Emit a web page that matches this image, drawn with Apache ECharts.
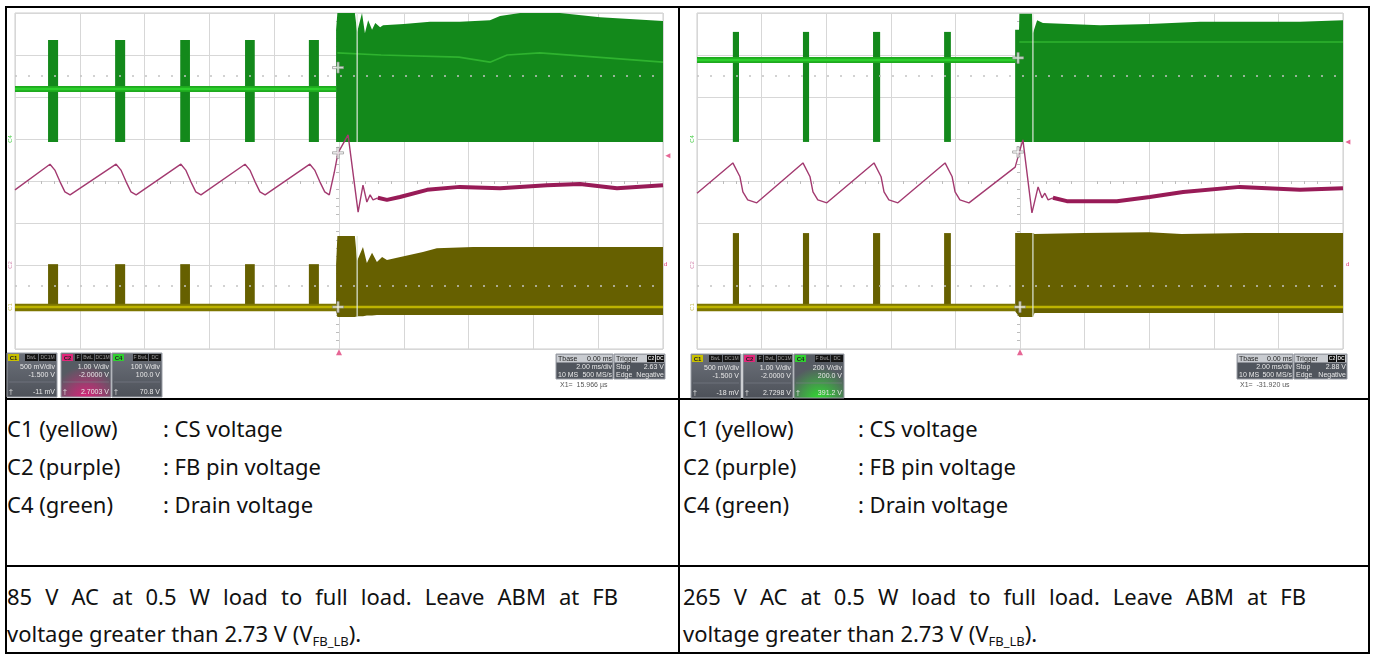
<!DOCTYPE html>
<html>
<head>
<meta charset="utf-8">
<script src="https://cdn.jsdelivr.net/npm/echarts/dist/echarts.min.js"></script>
<style>
  html, body { margin: 0; padding: 0; background: #fff; }
  #page { position: relative; width: 1375px; height: 656px; overflow: hidden; font-family: 'Noto Sans', sans-serif; }
  .ln { position: absolute; background: #000; }
  .t { position: absolute; font-size: 22px; line-height: 24px; color: #111; white-space: nowrap; }
  .j { text-align: justify; text-align-last: justify; white-space: normal; }
  .t sub { font-size: 13px; vertical-align: -4px; line-height: 0; }
  #chart { position: absolute; left: 0; top: 0; width: 1375px; height: 656px; }
</style>
</head>
<body>
<div id="page">
  <div class="ln" style="left:5px;top:6px;width:1365px;height:2px"></div>
  <div class="ln" style="left:5px;top:398px;width:1365px;height:2px"></div>
  <div class="ln" style="left:5px;top:565px;width:1365px;height:2px"></div>
  <div class="ln" style="left:5px;top:652px;width:1365px;height:2px"></div>
  <div class="ln" style="left:5px;top:6px;width:2px;height:648px"></div>
  <div class="ln" style="left:678px;top:6px;width:2px;height:648px"></div>
  <div class="ln" style="left:1368px;top:6px;width:2px;height:648px"></div>

  <div class="t" style="left:7px;top:416px">C1 (yellow)</div>
  <div class="t" style="left:163px;top:416px">: CS voltage</div>
  <div class="t" style="left:7px;top:454px">C2 (purple)</div>
  <div class="t" style="left:163px;top:454px">: FB pin voltage</div>
  <div class="t" style="left:7px;top:492px">C4 (green)</div>
  <div class="t" style="left:163px;top:492px">: Drain voltage</div>
  <div class="t j" style="left:7px;top:584px;width:611px">85 V AC at 0.5 W load to full load. Leave ABM at FB</div>
  <div class="t" style="left:7px;top:621px">voltage greater than 2.73 V (V<sub>FB_LB</sub>).</div>

  <div class="t" style="left:683px;top:416px">C1 (yellow)</div>
  <div class="t" style="left:858px;top:416px">: CS voltage</div>
  <div class="t" style="left:683px;top:454px">C2 (purple)</div>
  <div class="t" style="left:858px;top:454px">: FB pin voltage</div>
  <div class="t" style="left:683px;top:492px">C4 (green)</div>
  <div class="t" style="left:858px;top:492px">: Drain voltage</div>
  <div class="t j" style="left:683px;top:584px;width:623px">265 V AC at 0.5 W load to full load. Leave ABM at FB</div>
  <div class="t" style="left:683px;top:621px">voltage greater than 2.73 V (V<sub>FB_LB</sub>).</div>

  <div id="chart"></div>
</div>
<script>
// time in ms (2 ms/div, trigger at 0), amplitude in screen divisions (0 = centre)
const timeTicks = [-10, -8, -6, -4, -2, 0, 2, 4, 6, 8, 10];

// ---- left screen: 85 V AC ----
const drainBurstsL = [
  [-8.98, -8.67, 0.93, 3.36], [-6.91, -6.60, 0.93, 3.36], [-4.90, -4.60, 0.93, 3.36],
  [-2.90, -2.60, 0.93, 3.36], [-0.93, -0.62, 0.93, 3.36]
];
const drainBaseL = [[-10, 2.19], [-0.09, 2.19]];
const drainEnvL = [
  [-0.09, 0.93, 3.6], [-0.05, 0.93, 4.0], [0.49, 0.93, 4.0], [0.56, 0.93, 3.55], [0.71, 0.93, 4.0],
  [0.80, 0.93, 3.52], [0.90, 0.93, 3.83], [1.02, 0.93, 3.6], [1.12, 0.93, 3.76], [1.27, 0.93, 3.66],
  [1.36, 0.93, 3.71], [2.0, 0.93, 3.74], [2.81, 0.93, 3.79], [3.73, 0.93, 3.79], [4.66, 0.93, 3.83],
  [4.97, 0.93, 3.93], [5.59, 0.93, 4.0], [6.82, 0.93, 4.0], [8.06, 0.93, 3.9], [10, 0.93, 3.81]
];
const drainMeanL = [[-0.05, 3.05], [1.3, 3.0], [3.7, 2.95], [4.66, 2.83], [5.19, 3.0], [6.2, 3.05], [10, 2.83]];
const fbPreL = [
  [-10, -0.21], [-8.92, 0.40], [-8.77, 0.26], [-8.61, -0.02], [-8.46, -0.26], [-8.30, -0.33],
  [-6.88, 0.40], [-6.73, 0.26], [-6.57, -0.02], [-6.42, -0.26], [-6.26, -0.33],
  [-4.88, 0.40], [-4.73, 0.26], [-4.57, -0.02], [-4.42, -0.26], [-4.26, -0.33],
  [-2.90, 0.40], [-2.75, 0.26], [-2.59, -0.02], [-2.44, -0.26], [-2.28, -0.33],
  [-0.90, 0.40], [-0.75, 0.26], [-0.59, -0.02], [-0.44, -0.26], [-0.30, -0.33],
  [-0.15, 0.19], [-0.03, 0.67], [0.28, 1.10], [0.59, -0.74], [0.74, -0.10], [0.86, -0.50],
  [0.96, -0.33], [1.05, -0.45], [1.20, -0.40]
];
const fbPostL = [
  [1.20, -0.40], [1.48, -0.45], [1.88, -0.38], [2.72, -0.21], [3.73, -0.14], [4.97, -0.17],
  [6.42, -0.10], [7.44, -0.07], [8.58, -0.17], [10, -0.10]
];
const csPulsesL = [
  [-8.98, -8.67, -3.05, -1.98], [-6.91, -6.60, -3.05, -1.98], [-4.90, -4.60, -3.05, -1.98],
  [-2.90, -2.60, -3.05, -1.98], [-0.93, -0.62, -3.05, -1.98]
];
const csNoiseL = [[-10, -3.1, -2.92], [-0.09, -3.1, -2.92]];
const csEnvL = [
  [-0.09, -3.1, -1.98], [-0.05, -3.24, -1.31], [0.49, -3.24, -1.31], [0.56, -3.22, -1.9],
  [0.74, -3.22, -1.57], [0.86, -3.2, -1.95], [1.02, -3.2, -1.71], [1.17, -3.19, -1.93],
  [1.33, -3.19, -1.81], [1.48, -3.19, -1.88], [1.79, -3.19, -1.83], [2.59, -3.19, -1.69],
  [3.02, -3.19, -1.6], [4.14, -3.19, -1.57], [10, -3.19, -1.57]
];
const csBaseL = [[-10, -3.0], [10, -3.0]];
const gapL = [[0.56, 0.93, 4.0], [0.56, -3.22, -1.31]];
const cursorL = [[-0.03, 2.7], [-0.03, 0.67], [-0.03, -3.0]];

// ---- right screen: 265 V AC ----
const drainBurstsR = [
  [-8.89, -8.70, 0.93, 3.55], [-6.72, -6.53, 0.93, 3.55], [-4.55, -4.33, 0.93, 3.55], [-2.35, -2.14, 0.93, 3.55]
];
const drainBaseR = [[-10, 2.88], [-0.15, 2.88]];
const drainEnvR = [
  [-0.15, 0.93, 3.6], [-0.03, 0.93, 3.6], [-0.02, 0.93, 3.98], [0.37, 0.93, 3.98], [0.40, 0.93, 3.52],
  [0.53, 0.93, 3.83], [0.71, 0.93, 3.76], [1.5, 0.93, 3.74], [2.48, 0.93, 3.71], [4.0, 0.93, 3.74],
  [5.57, 0.93, 3.79], [8.67, 0.93, 3.79], [10, 0.93, 3.83]
];
const drainMeanR = [[-0.02, 3.31], [10, 3.31]];
const fbPreR = [
  [-10, -0.29], [-8.89, 0.43], [-8.67, 0.10], [-8.58, -0.26], [-8.43, -0.45], [-8.15, -0.52],
  [-6.72, 0.43], [-6.50, 0.10], [-6.41, -0.26], [-6.26, -0.45], [-5.98, -0.52],
  [-4.52, 0.43], [-4.30, 0.10], [-4.21, -0.26], [-4.06, -0.45], [-3.78, -0.52],
  [-2.32, 0.43], [-2.10, 0.10], [-2.01, -0.26], [-1.86, -0.45], [-1.58, -0.52],
  [-0.15, 0.33], [0.0, 0.74], [0.09, 0.98], [0.37, -0.76], [0.56, -0.14], [0.68, -0.40],
  [0.77, -0.29], [0.87, -0.45], [1.02, -0.40]
];
const fbPostR = [
  [1.02, -0.40], [1.45, -0.48], [3.0, -0.48], [4.02, -0.38], [5.05, -0.26], [6.81, -0.14],
  [7.65, -0.17], [8.67, -0.21], [10, -0.17]
];
const csPulsesR = [
  [-8.89, -8.70, -3.05, -1.24], [-6.72, -6.53, -3.05, -1.24], [-4.55, -4.33, -3.05, -1.24], [-2.35, -2.14, -3.05, -1.24]
];
const csNoiseR = [[-10, -3.1, -2.92], [-0.15, -3.1, -2.92]];
const csEnvR = [
  [-0.15, -3.1, -1.24], [-0.02, -3.24, -1.24], [0.40, -3.24, -1.24], [0.45, -3.14, -1.26], [2.0, -3.14, -1.24],
  [4.0, -3.14, -1.22], [5.0, -3.14, -1.26], [7.0, -3.14, -1.24], [10, -3.14, -1.24]
];
const csBaseR = [[-10, -3.0], [10, -3.0]];
const gapR = [[0.40, 0.93, 3.98], [0.40, -3.24, -1.24]];
const cursorR = [[-0.06, 2.93], [-0.06, 0.69], [0, -3.0]];

const GREEN = '#13891b', GREEN_LT = '#2ccf2c', PURPLE = '#a33a70', PURPLE_DK = '#981b57';
const OLIVE = '#666000', YELLOW = '#bdb300', PINK = '#e0407a';

function rects(color) {
  return function (params, api) {
    const a = api.coord([api.value(0), api.value(3)]);
    const b = api.coord([api.value(1), api.value(2)]);
    return { type: 'rect', shape: { x: a[0], y: a[1], width: Math.max(b[0] - a[0], 1), height: b[1] - a[1] }, style: { fill: color } };
  };
}
// one polygon for the whole band: upper edge left->right, lower edge back
function envelope(points, color) {
  return function (params, api) {
    if (params.dataIndex !== 0) return null;
    const top = points.map(p => api.coord([p[0], p[2]]));
    const bottom = points.map(p => api.coord([p[0], p[1]])).reverse();
    return { type: 'polygon', shape: { points: top.concat(bottom) }, style: { fill: color } };
  };
}
function gaps(params, api) {
  const a = api.coord([api.value(0), api.value(2)]);
  const b = api.coord([api.value(0), api.value(1)]);
  return { type: 'line', shape: { x1: a[0], y1: a[1], x2: b[0], y2: b[1] }, style: { stroke: '#dfe8dc', lineWidth: 1.2 } };
}

function screen(gi, d) {
  const custom = (data, fn, z) => ({ type: 'custom', xAxisIndex: gi, yAxisIndex: gi, data, renderItem: fn, z, silent: true, clip: true });
  const line = (data, color, width, z, extra) => Object.assign({
    type: 'line', xAxisIndex: gi, yAxisIndex: gi, data, showSymbol: false, symbol: 'none', z, silent: true,
    lineStyle: { color, width }
  }, extra || {});
  const dotted = { color: '#c4c4c4', type: [2, 11], width: 1.5 };
  return [
    // dotted reference rows sit under the traces
    line([], '#ccc', 1, 1, {
      markLine: {
        silent: true, symbol: 'none', label: { show: false },
        data: [{ yAxis: 2.5, lineStyle: dotted }, { yAxis: -2.5, lineStyle: dotted }]
      }
    }),
    custom(d.drainBursts, rects(GREEN), 2),
    custom(d.drainEnv, envelope(d.drainEnv, GREEN), 2),
    line(d.drainBase, '#1eaa1e', 6, 3),
    line(d.drainBase, GREEN_LT, 2.5, 3),
    line(d.drainMean, '#2fb32f', 1.6, 3),
    custom(d.csPulses, rects(OLIVE), 2),
    custom(d.csEnv, envelope(d.csEnv, OLIVE), 2),
    custom(d.csNoise, envelope(d.csNoise, '#7d7600'), 2),
    line(d.csBase, YELLOW, 2.5, 3),
    custom(d.gap, gaps, 4),
    line(d.fbPre, PURPLE, 1.4, 5, {
      markLine: {
        silent: true, symbol: 'none', label: { show: false },
        data: [[{ coord: [0, 0.98], lineStyle: { color: '#777', type: [4, 3], width: 1 } }, { coord: [0, -4.02] }]]
      }
    }),
    line(d.fbPost, PURPLE_DK, 4, 5),
    {
      type: 'scatter', xAxisIndex: gi, yAxisIndex: gi, data: d.cursor, z: 6, silent: true, clip: false,
      symbol: 'path://M4 0h2v4h4v2h-4v4h-2v-4h-4v-2h4z', symbolSize: 11,
      itemStyle: { color: '#f4f4f4', borderColor: '#8a8a8a', borderWidth: 0.8 }
    },
    {
      type: 'scatter', xAxisIndex: gi, yAxisIndex: gi, data: [[0, -4.08]], z: 6, silent: true, clip: false,
      symbol: 'triangle', symbolSize: 6, itemStyle: { color: PINK }
    },
    {
      type: 'scatter', xAxisIndex: gi, yAxisIndex: gi, data: [d.edgeMark], z: 6, silent: true, clip: false,
      symbol: 'triangle', symbolRotate: 90, symbolSize: 5, itemStyle: { color: PINK }
    }
  ];
}

const axisX = (gi) => ({
  gridIndex: gi, type: 'value', min: timeTicks[0], max: timeTicks[timeTicks.length - 1], interval: 2,
  axisLine: { show: false, onZero: true }, axisTick: { show: false }, axisLabel: { show: false },
  minorTick: { show: true, splitNumber: 5, length: 3, lineStyle: { color: '#bdbdbd' } },
  splitLine: { show: true, lineStyle: { color: '#d7d7d7', width: 1 } }
});
const axisY = (gi) => ({
  gridIndex: gi, type: 'value', min: -4, max: 4, interval: 1,
  axisLine: { show: false, onZero: true }, axisTick: { show: false }, axisLabel: { show: false },
  minorTick: { show: true, splitNumber: 5, length: 3, lineStyle: { color: '#bdbdbd' } },
  splitLine: { show: true, lineStyle: { color: '#d7d7d7', width: 1 } }
});

// scope descriptor boxes (not data)
const TXT = '#e8e8e8';
function chanBox(x, y, ch, chColor, tags, l1, l2, l3, glow) {
  const body = glow
    ? { type: 'radial', x: 0.5, y: 1.05, r: 0.75, colorStops: [{ offset: 0, color: glow }, { offset: 1, color: '#565b63' }] }
    : { type: 'linear', x: 0, y: 0, x2: 0, y2: 1, colorStops: [{ offset: 0, color: '#6c717a' }, { offset: 1, color: '#4d5159' }] };
  const kids = [
    { type: 'rect', shape: { x: 0, y: 0, width: 50, height: 44 }, style: { fill: body, stroke: '#9a9ea6', lineWidth: 1 } },
    { type: 'rect', shape: { x: 1, y: 1, width: 11, height: 7 }, style: { fill: chColor } },
    { type: 'text', style: { text: ch, x: 6.5, y: 5, font: 'bold 6px "Liberation Sans"', fill: '#222', align: 'center', verticalAlign: 'middle' } },
    { type: 'line', shape: { x1: 2, y1: 29, x2: 48, y2: 29 }, style: { stroke: '#7d828b', lineWidth: 0.6 } },
    { type: 'text', style: { text: l1, x: 48, y: 14, font: '7px "Liberation Sans"', fill: TXT, align: 'right', verticalAlign: 'middle' } },
    { type: 'text', style: { text: l2, x: 48, y: 22, font: '7px "Liberation Sans"', fill: TXT, align: 'right', verticalAlign: 'middle' } },
    { type: 'text', style: { text: l3, x: 48, y: 39, font: '7px "Liberation Sans"', fill: TXT, align: 'right', verticalAlign: 'middle' } },
    { type: 'text', style: { text: '†', x: 4, y: 39, font: '7px "Liberation Sans"', fill: TXT, align: 'center', verticalAlign: 'middle' } }
  ];
  tags.forEach(t => {
    kids.push({ type: 'rect', shape: { x: t[0], y: 1, width: t[1], height: 7 }, style: { fill: '#151515' } });
    kids.push({ type: 'text', style: { text: t[2], x: t[0] + t[1] / 2, y: 5, font: '5px "Liberation Sans"', fill: t[3] || '#9a9a9a', align: 'center', verticalAlign: 'middle' } });
  });
  return { type: 'group', x, y, children: kids };
}
function infoBox(x, y, w, head, headTags, r2a, r2b, r3a, r3b) {
  const kids = [
    { type: 'rect', shape: { x: 0, y: 0, width: w, height: 25 }, style: { fill: '#50555d', stroke: '#9a9ea6', lineWidth: 1 } },
    { type: 'rect', shape: { x: 0.5, y: 0.5, width: w - 1, height: 8 }, style: { fill: '#c9ccd1' } },
    { type: 'text', style: { text: head[0], x: 2, y: 4.8, font: '7px "Liberation Sans"', fill: '#222', verticalAlign: 'middle' } },
    { type: 'text', style: { text: r2a, x: 2, y: 13, font: '7px "Liberation Sans"', fill: TXT, verticalAlign: 'middle' } },
    { type: 'text', style: { text: r2b, x: w - 1, y: 13, font: '7px "Liberation Sans"', fill: TXT, align: 'right', verticalAlign: 'middle' } },
    { type: 'text', style: { text: r3a, x: 2, y: 21, font: '7px "Liberation Sans"', fill: TXT, verticalAlign: 'middle' } },
    { type: 'text', style: { text: r3b, x: w - 1, y: 21, font: '7px "Liberation Sans"', fill: TXT, align: 'right', verticalAlign: 'middle' } }
  ];
  if (head[1]) kids.push({ type: 'text', style: { text: head[1], x: w - 1, y: 4.8, font: '7px "Liberation Sans"', fill: '#222', align: 'right', verticalAlign: 'middle' } });
  headTags.forEach(t => {
    kids.push({ type: 'rect', shape: { x: t[0], y: 1, width: t[1], height: 7 }, style: { fill: '#111' } });
    kids.push({ type: 'text', style: { text: t[2], x: t[0] + t[1] / 2, y: 5, font: 'bold 5px "Liberation Sans"', fill: '#ddd', align: 'center', verticalAlign: 'middle' } });
  });
  return { type: 'group', x, y, children: kids };
}
function sideLabel(x, y, text, color) {
  return { type: 'text', x, y, rotation: Math.PI / 2, style: { text, font: '6px "Liberation Sans"', fill: color, align: 'center', verticalAlign: 'middle' } };
}

const graphics = [
  chanBox(7, 353, 'C1', '#c8c000', [[18, 13, 'BwL'], [32, 17, 'DC1M']], '500 mV/div', '-1.500 V', '-11 mV'),
  chanBox(61, 353, 'C2', '#e0287a', [[14, 6, 'F'], [21, 12, 'BwL'], [34, 15, 'DC1M']], '1.00 V/div', '-2.0000 V', '2.7003 V', '#e0207a'),
  chanBox(112, 353, 'C4', '#2fd02f', [[21, 15, 'F BwL'], [37, 12, 'DC']], '100 V/div', '100.0 V', '70.8 V'),
  infoBox(556, 354, 57, ['Tbase', '0.00 ms'], [], '', '2.00 ms/div', '10 MS', '500 MS/s'),
  infoBox(614, 354, 51, ['Trigger'], [[33, 8, 'C2'], [42, 8, 'DC']], 'Stop', '2.63 V', 'Edge', 'Negative'),
  { type: 'text', style: { text: 'X1=  15.966 µs', x: 560, y: 385, font: '7px "Liberation Sans"', fill: '#555', verticalAlign: 'middle' } },
  sideLabel(10, 139, 'C4', '#4c4'), sideLabel(10, 265, 'C2', '#d48ab0'), sideLabel(10, 307, 'C1', '#c8c060'),
  { type: 'text', style: { text: 'd', x: 664, y: 264, font: '6px "Liberation Sans"', fill: PINK, verticalAlign: 'middle' } },

  chanBox(691, 354, 'C1', '#c8c000', [[18, 13, 'BwL'], [32, 17, 'DC1M']], '500 mV/div', '-1.500 V', '-18 mV'),
  chanBox(743, 354, 'C2', '#e0287a', [[14, 6, 'F'], [21, 12, 'BwL'], [34, 15, 'DC1M']], '1.00 V/div', '-2.0000 V', '2.7298 V'),
  chanBox(794, 354, 'C4', '#2fd02f', [[21, 15, 'F BwL'], [37, 12, 'DC']], '200 V/div', '200.0 V', '391.2 V', '#2ee02e'),
  infoBox(1237, 354, 56, ['Tbase', '0.00 ms'], [], '', '2.00 ms/div', '10 MS', '500 MS/s'),
  infoBox(1294, 354, 53, ['Trigger'], [[34, 8, 'C2'], [43, 8, 'DC']], 'Stop', '2.88 V', 'Edge', 'Negative'),
  { type: 'text', style: { text: 'X1=  -31.920 us', x: 1240, y: 385, font: '7px "Liberation Sans"', fill: '#555', verticalAlign: 'middle' } },
  sideLabel(692, 139, 'C4', '#4c4'), sideLabel(692, 265, 'C2', '#d48ab0'), sideLabel(692, 307, 'C1', '#c8c060'),
  { type: 'text', style: { text: 'd', x: 1346, y: 264, font: '6px "Liberation Sans"', fill: PINK, verticalAlign: 'middle' } }
];

const left = {
  drainBursts: drainBurstsL, drainBase: drainBaseL, drainEnv: drainEnvL, drainMean: drainMeanL,
  fbPre: fbPreL, fbPost: fbPostL, csPulses: csPulsesL, csNoise: csNoiseL, csEnv: csEnvL, csBase: csBaseL,
  gap: gapL, cursor: cursorL, edgeMark: [10.15, 0.6]
};
const right = {
  drainBursts: drainBurstsR, drainBase: drainBaseR, drainEnv: drainEnvR, drainMean: drainMeanR,
  fbPre: fbPreR, fbPost: fbPostR, csPulses: csPulsesR, csNoise: csNoiseR, csEnv: csEnvR, csBase: csBaseR,
  gap: gapR, cursor: cursorR, edgeMark: [10.15, 0.93]
};

const Chart = echarts.init(document.getElementById('chart'), null, { renderer: 'canvas' });
let option = {
  animation: false,
  grid: [
    { left: 15, top: 13, width: 648, height: 336, show: true, borderColor: '#cdcdcd', borderWidth: 1, backgroundColor: '#fff' },
    { left: 697, top: 13, width: 646, height: 336, show: true, borderColor: '#cdcdcd', borderWidth: 1, backgroundColor: '#fff' }
  ],
  xAxis: [axisX(0), axisX(1)],
  yAxis: [axisY(0), axisY(1)],
  series: screen(0, left).concat(screen(1, right)),
  graphic: graphics
};
Chart.setOption(option);
</script>
</body>
</html>
